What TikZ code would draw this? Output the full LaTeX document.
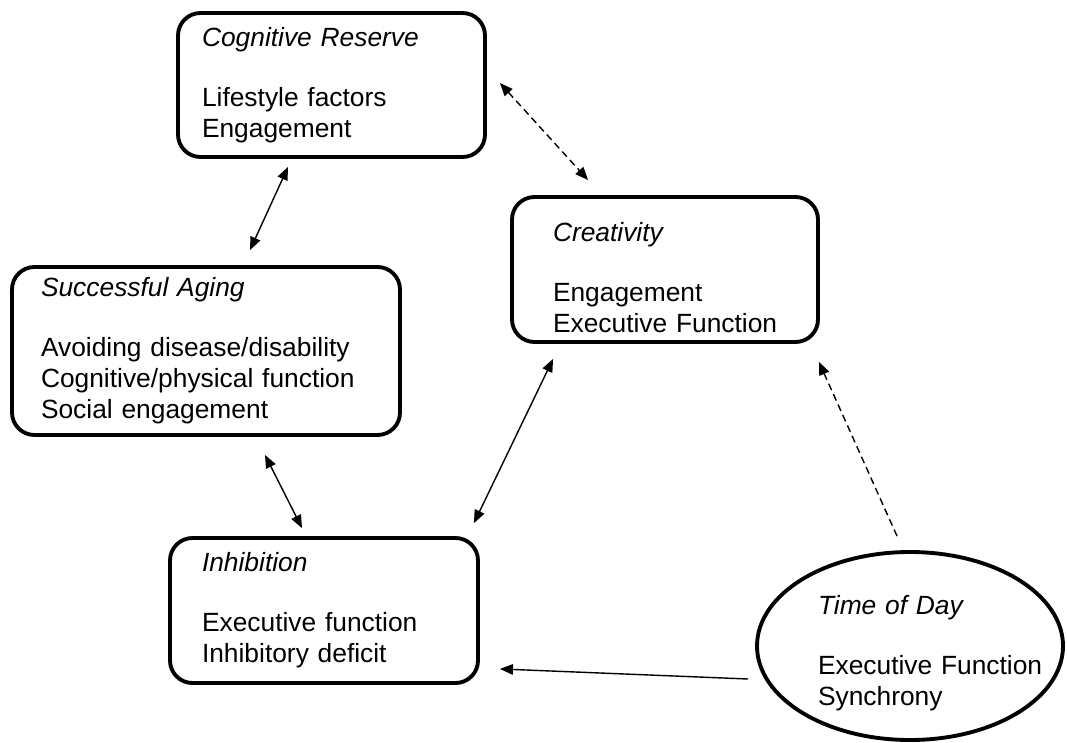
\documentclass[tikz,border=0pt]{standalone}
\usepackage{fontspec}
\setmainfont{Liberation Sans}
\usetikzlibrary{shapes.geometric, arrows.meta}

\begin{document}
\begin{tikzpicture}[
    >={Triangle[length=2.6mm,width=2.1mm]},
    font=\fontsize{15}{17.6}\selectfont,
    caixa/.style={draw, line width=2.2pt, rounded corners=0.45cm, inner sep=0pt, align=left},
    seta/.style={line width=0.8pt},
    tracejada/.style={seta, dash pattern=on 4pt off 2.5pt}]
    \useasboundingbox (0,0) rectangle (21.34,-14.84);
    % Caixas
    \node[caixa, minimum width=6.14cm, minimum height=2.88cm, text width=5.18cm] (reserva) at (6.63,-1.70)
        {\textit{Cognitive Reserve}\\[16.5pt] Lifestyle factors\\ Engagement};
    \node[caixa, minimum width=7.76cm, minimum height=3.36cm, text width=6.6cm] (envelhecimento) at (4.12,-7.02)
        {\textit{Successful Aging}\\[16.5pt] Avoiding disease/disability\\ Cognitive/physical function\\ Social engagement};
    \node[caixa, minimum width=6.12cm, minimum height=2.90cm, text width=4.48cm] (criatividade) at (13.30,-5.39)
        {\rule{0pt}{0.7cm}\textit{Creativity}\\[16.5pt] Engagement\\ \mbox{Executive Function}};
    \node[caixa, minimum width=6.16cm, minimum height=2.90cm, text width=4.88cm] (inibicao) at (6.48,-12.21)
        {\textit{Inhibition}\\[16.5pt] Executive function\\ Inhibitory deficit};
    % Elipse
    \node[draw, ellipse, line width=2.2pt, inner sep=0pt, minimum width=6.12cm, minimum height=3.76cm,
        text width=3.68cm, align=left] (horario) at (18.20,-12.92)
        {\rule{0pt}{0.66cm}\textit{Time of Day}\\[16.5pt] \mbox{Executive Function}\\ Synchrony};
    % Setas
    \draw[tracejada, <->] ([shift={(0.26,0.04)}]reserva.east) -- ([shift={(1.56,0.30)}]criatividade.north west);
    \draw[seta, <->] ([shift={(-0.87,-0.16)}]reserva.south) -- ([shift={(0.88,0.30)}]envelhecimento.north);
    \draw[seta, <->] ([shift={(1.18,-0.36)}]envelhecimento.south) -- ([shift={(-0.44,0.16)}]inibicao.north);
    \draw[seta, <->] ([shift={(-0.12,0.26)}]inibicao.north east) -- ([shift={(0.86,-0.30)}]criatividade.south west);
    \draw[tracejada, ->] ([shift={(-0.26,0.28)}]horario.north) -- ([shift={(-0.02,-0.36)}]criatividade.south east);
    \draw[seta, ->] ([shift={(-0.14,-0.66)}]horario.west) -- ([shift={(0.40,0.32)}]inibicao.south east);
\end{tikzpicture}
\end{document}
